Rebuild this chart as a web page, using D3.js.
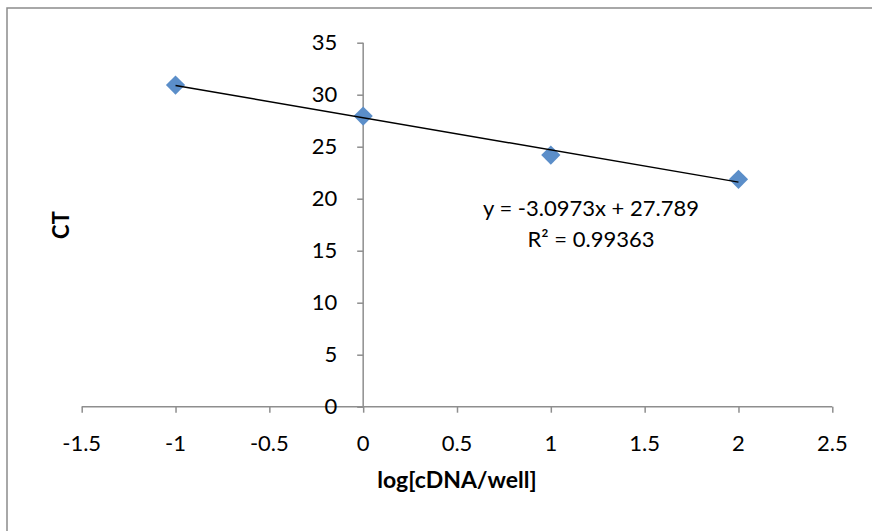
<!DOCTYPE html>
<html>
<head>
<meta charset="utf-8">
<script src="https://cdn.jsdelivr.net/npm/d3@7"></script>
<style>
  body { margin: 0; background: #fff; }
  text { font-family: Lato, "Open Sans", sans-serif; fill: #000; }
</style>
</head>
<body>
<svg width="872" height="531"></svg>
<script>
// data
var logDna = [-1, 0, 1, 2];
var ctValues = [30.93, 27.95, 24.2, 21.86];
var xTicks = [-1.5, -1, -0.5, 0, 0.5, 1, 1.5, 2, 2.5];
var yTicks = [0, 5, 10, 15, 20, 25, 30, 35];
var slope = -3.0973, intercept = 27.789;
var eqLines = ["y = -3.0973x + 27.789", "R\u00b2 = 0.99363"];

var svg = d3.select("svg");

// outer frame, cropped by the window on right and bottom
svg.append("rect")
    .attr("x", 7).attr("y", 8)
    .attr("width", 900).attr("height", 560)
    .style("fill", "none")
    .style("stroke", "#8c8c8c")
    .style("stroke-width", 1.5);

var x = d3.scaleLinear().domain([-1.5, 2.5]).range([81.7, 832.3]);
var y = d3.scaleLinear().domain([0, 35]).range([406.7, 42.7]);

var axisColor = "#8e8e8e";

// x axis sits at y = 0
var xAxis = svg.append("g")
    .attr("transform", "translate(0," + y(0) + ")")
    .call(d3.axisBottom(x).tickValues(xTicks).tickSize(6));
xAxis.selectAll("text").remove();

// y axis sits at x = 0
var yAxis = svg.append("g")
    .attr("transform", "translate(" + x(0) + ",0)")
    .call(d3.axisLeft(y).tickValues(yTicks).tickSize(6));
yAxis.selectAll("text").remove();

svg.selectAll("g .domain").remove();
svg.append("line")
    .attr("x1", x(-1.5)).attr("x2", x(2.5))
    .attr("y1", y(0)).attr("y2", y(0))
    .style("stroke", axisColor).style("stroke-width", 1.5);
svg.append("line")
    .attr("x1", x(0)).attr("x2", x(0))
    .attr("y1", y(0)).attr("y2", y(35))
    .style("stroke", axisColor).style("stroke-width", 1.5);
svg.selectAll(".tick line").style("stroke", axisColor).style("stroke-width", 1.5);

// tick labels
svg.selectAll(".xlab")
    .data(xTicks)
    .enter().append("text")
    .attr("x", function(d) { return x(d); })
    .attr("y", y(0) + 44)
    .attr("text-anchor", "middle")
    .style("font-size", "22px")
    .text(function(d) { return d; });

svg.selectAll(".ylab")
    .data(yTicks)
    .enter().append("text")
    .attr("x", x(0) - 26)
    .attr("y", function(d) { return y(d) + 7; })
    .attr("text-anchor", "end")
    .style("font-size", "22px")
    .text(function(d) { return d; });

// axis titles
svg.append("text")
    .attr("x", (x(-1.5) + x(2.5)) / 2)
    .attr("y", 488)
    .attr("text-anchor", "middle")
    .style("font-size", "23px")
    .style("font-weight", "bold")
    .text("log[cDNA/well]");

svg.append("text")
    .attr("transform", "translate(69,225) rotate(-90)")
    .attr("text-anchor", "middle")
    .style("font-size", "22px")
    .style("font-weight", "bold")
    .text("CT");

// points
svg.selectAll(".pt")
    .data(logDna)
    .enter().append("path")
    .attr("d", d3.symbol(d3.symbolSquare, 185))
    .attr("transform", function(d, i) {
        return "translate(" + x(d) + "," + y(ctValues[i]) + ") rotate(45)";
    })
    .style("fill", "#5b8ec9");

// linear trendline
var xMin = d3.min(logDna), xMax = d3.max(logDna);
svg.append("line")
    .attr("x1", x(xMin)).attr("y1", y(slope * xMin + intercept))
    .attr("x2", x(xMax)).attr("y2", y(slope * xMax + intercept))
    .style("stroke", "#000")
    .style("stroke-width", 1.5);

// equation label
svg.selectAll(".eq")
    .data(eqLines)
    .enter().append("text")
    .attr("x", 591)
    .attr("y", function(d, i) { return 216 + i * 31; })
    .attr("text-anchor", "middle")
    .style("font-size", "22px")
    .text(function(d) { return d; });
</script>
</body>
</html>
